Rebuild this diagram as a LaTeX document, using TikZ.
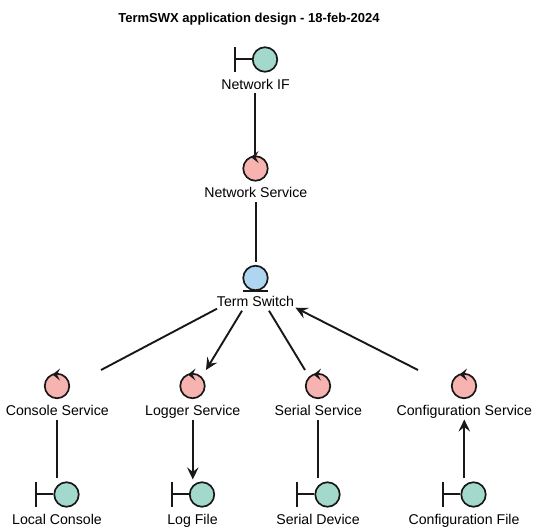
\documentclass[tikz,border=0pt]{standalone}
\usepackage{fontspec}
\setmainfont{Liberation Sans}
\usetikzlibrary{arrows.meta}
\definecolor{ink}{HTML}{181818}
\definecolor{bnd}{HTML}{A3D9CC}
\definecolor{ctl}{HTML}{F6B3B0}
\definecolor{ent}{HTML}{AED6F1}
\tikzset{
  glyph/.style={circle,draw=ink,line width=1.7pt,minimum size=24.5pt,inner sep=0pt},
  lbl/.style={font=\fontsize{14.15}{16}\selectfont,text=black,inner sep=1pt,text height=10pt,text depth=3pt},
  link/.style={draw=ink,line width=1.9pt},
  arr/.style={link,-{Stealth[length=12pt,width=11.5pt,inset=4.5pt]}},
  stem/.style={draw=ink,line width=1.9pt},
}
% boundary: name, x, y, label
\newcommand{\bndry}[4]{%
  \node[glyph,fill=bnd] (#1) at (#2,#3) {};
  \draw[stem] ([xshift=-30.3pt]#1.center) ++(0,-12.5) -- ++(0,25);
  \draw[stem] ([xshift=-30pt,yshift=0.4pt]#1.center) -- ([yshift=0.4pt]#1.west);
  \node[lbl] (#1l) at (#2-9.5,#3+26.2) {#4};
}
% control: name, x, y, label
\newcommand{\ctrlc}[4]{%
  \node[glyph,fill=ctl] (#1) at (#2,#3) {};
  \fill[ink] (#2-4.5,#3-11.5) -- (#2+3,#3-17.5) -- (#2,#3-11.5) -- (#2+3,#3-5.5) -- cycle;
  \node[lbl] (#1l) at (#2+0.3,#3+25.8) {#4};
}
\begin{document}
\begin{tikzpicture}[x=1pt,y=-1pt]
\useasboundingbox (0,0) rectangle (538,531);
\fill[white] (0,0) rectangle (538,531);
\node[font=\bfseries\fontsize{13}{15}\selectfont,inner sep=0pt] (title) at (249,18.7) {TermSWX application design - 18-feb-2024};

\bndry{nif}{265}{59.5}{Network IF}
\ctrlc{nsv}{255.5}{168.5}{Network Service}
\node[glyph,fill=ent] (term) at (255.5,278) {};
\draw[stem] (243,291) -- (268,291);
\node[lbl] (terml) at (255.5,302.7) {Term Switch};

\ctrlc{con}{57}{386}{Console Service}
\ctrlc{log}{192.5}{386}{Logger Service}
\ctrlc{ser}{318}{386}{Serial Service}
\ctrlc{cfg}{464}{386}{Configuration Service}

\bndry{lc}{66.5}{494.5}{Local Console}
\bndry{lf}{202}{494.5}{Log File}
\bndry{sd}{327.5}{494.5}{Serial Device}
\bndry{cf}{473.5}{494.5}{Configuration File}

\draw[link] ([xshift=-0.5pt]nifl.south) -- ([xshift=-0.5pt,yshift=1pt]nsv.north -| nifl.south);
\draw[link] (nsvl.south) -- ([yshift=3pt]term.north -| nsvl.south);
\draw[link] ([xshift=-38.5pt,yshift=-6pt]terml.center) -- ([xshift=44pt,yshift=16pt]con.center);
\draw[arr]  ([xshift=-13.5pt,yshift=-8pt]terml.center) -- ([xshift=13.5pt,yshift=16pt]log.center);
\draw[link] ([xshift=13.5pt,yshift=-8pt]terml.center) -- ([xshift=-13pt,yshift=16pt]ser.center);
\draw[arr]  ([xshift=-46pt,yshift=16pt]cfg.center) -- ([xshift=40pt,yshift=-5pt]terml.center);
\draw[link] (conl.south) -- ([yshift=3pt]lc.north -| conl.south);
\draw[arr]  (logl.south) -- ([yshift=2pt]lf.north -| logl.south);
\draw[link] (serl.south) -- ([yshift=3pt]sd.north -| serl.south);
\draw[arr]  ([yshift=3pt]cf.north -| cfgl.south) -- (cfgl.south);
\end{tikzpicture}
\end{document}
